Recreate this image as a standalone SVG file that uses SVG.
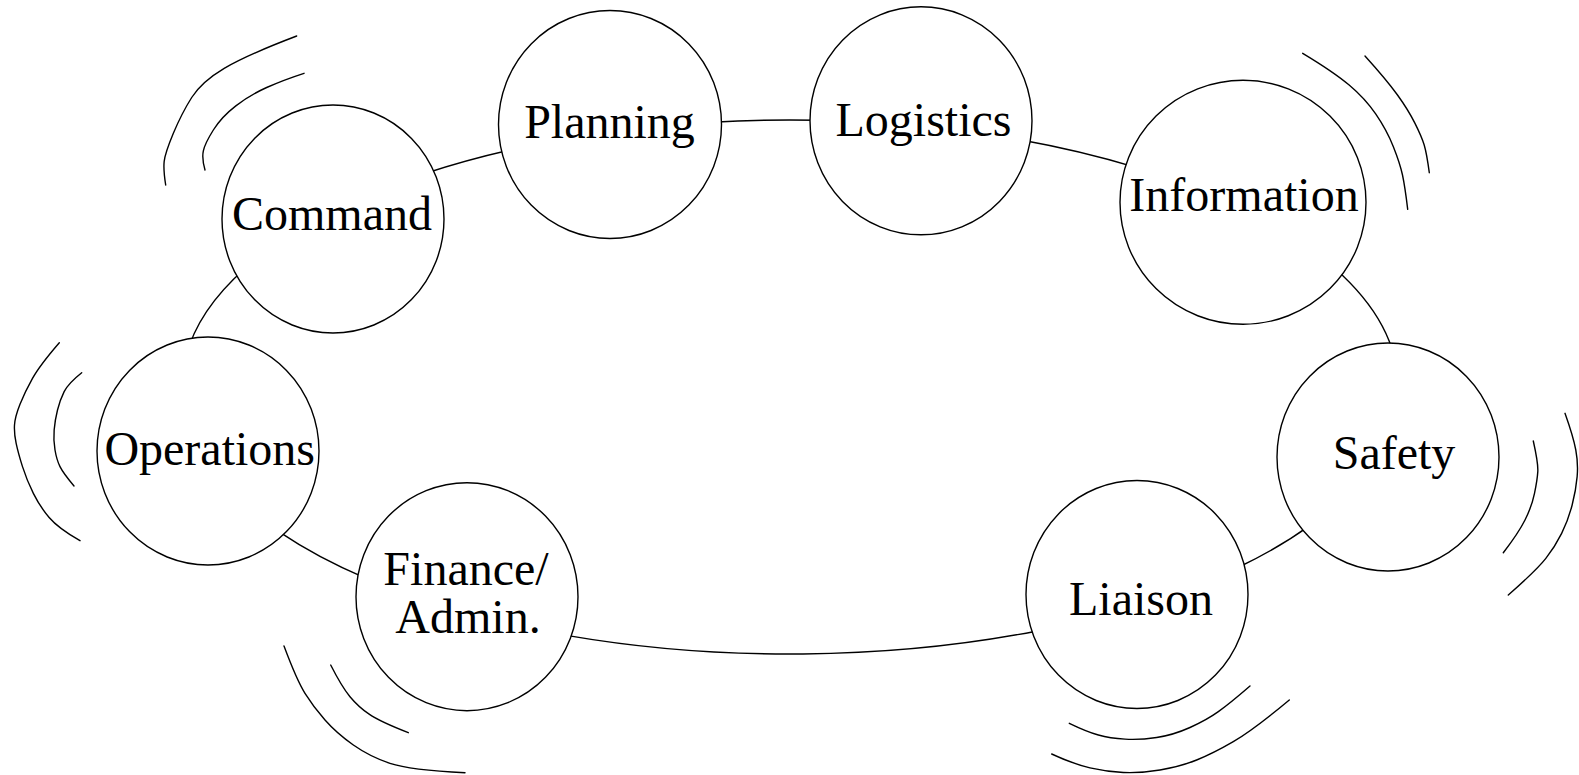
<svg xmlns="http://www.w3.org/2000/svg" width="1579" height="775" viewBox="0 0 1579 775">
<style>
.node{fill:#fff;stroke:#000;stroke-width:1.4}
.conn{fill:none;stroke:#000;stroke-width:1.4}
.wave{fill:none;stroke:#000;stroke-width:1.4;stroke-linecap:round}
.lbl{font-family:"Liberation Serif","Times New Roman",serif;font-size:48px;fill:#000;text-anchor:middle}
</style>
<rect width="1579" height="775" fill="#fff"/>
<g id="connectors">
<path class="conn" d="M186,356.4 A608 267 0 0 1 245,268.6"/>
<path class="conn" d="M425,173.5 A608 267 0 0 1 510,150"/>
<path class="conn" d="M712,122.2 A608 267 0 0 1 818,120.3"/>
<path class="conn" d="M1020,139.8 A608 267 0 0 1 1135,167.2"/>
<path class="conn" d="M1335,268.6 A608 267 0 0 1 1398,387"/>
<path class="conn" d="M1310,525.4 A608 267 0 0 1 1238,567.5"/>
<path class="conn" d="M1036,631.2 A608 267 0 0 1 568,635.6"/>
<path class="conn" d="M365,577.9 A608 267 0 0 1 280,532.4"/>
</g>
<g id="waves">
<path class="wave" d="M296.7,36 Q246.7,55 224.2,68.35 Q201.7,81.7 191.7,97.5 Q181.7,113.3 173.35,133.3 Q165,153.3 164.15,161.65 Q163.3,170 165.7,185"/>
<path class="wave" d="M304,73.3 Q283.3,80 266.65,87.5 Q250,95 235.85,105.85 Q221.7,116.7 213.35,130 Q205,143.3 203.35,150.8 Q201.7,158.3 205,170"/>
<path class="wave" d="M59.3,342.7 Q40,365 32.5,378.35 Q25,391.7 20,404.2 Q15,416.7 14.5,425 Q14,433.3 16.15,443.3 Q18.3,453.3 22.5,466.65 Q26.7,480 33.35,493.35 Q40,506.7 49.15,517.5 Q58.3,528.3 80,540.7"/>
<path class="wave" d="M81.7,372.7 Q68.3,383.3 64.15,391.65 Q60,400 57.5,410 Q55,420 54.15,430 Q53.3,440 55,450 Q56.7,460 60,466.65 Q63.3,473.3 74,486"/>
<path class="wave" d="M284,646 Q296.7,680 305,693.35 Q313.3,706.7 325,720 Q336.7,733.3 353.35,745 Q370,756.7 390,763.35 Q410,770 465,772.7"/>
<path class="wave" d="M330.7,665 Q341.7,686.7 350,696.7 Q358.3,706.7 369.15,714.2 Q380,721.7 408.3,732.7"/>
<path class="wave" d="M1069.3,723.3 Q1086.7,731.7 1098.35,735 Q1110,738.3 1125,739.15 Q1140,740 1156.65,737.5 Q1173.3,735 1190,727.5 Q1206.7,720 1218.35,711.65 Q1230,703.3 1250,686"/>
<path class="wave" d="M1051.7,754 Q1073.3,764 1090,767.85 Q1106.7,771.7 1123.35,772.5 Q1140,773.3 1160,770 Q1180,766.7 1196.65,760 Q1213.3,753.3 1233.3,741.65 Q1253.3,730 1289.3,700"/>
<path class="wave" d="M1533.3,441 Q1538.3,463.3 1537.8,471.65 Q1537.3,480 1534.5,493.35 Q1531.7,506.7 1525,520 Q1518.3,533.3 1503.3,552.7"/>
<path class="wave" d="M1565,413.3 Q1573.3,436.7 1575.8,450 Q1578.3,463.3 1577.15,476.65 Q1576,490 1572.15,505 Q1568.3,520 1561.65,533.35 Q1555,546.7 1545.85,558.35 Q1536.7,570 1508.3,595"/>
<path class="wave" d="M1302.7,53.3 Q1333.3,71.7 1349.15,85 Q1365,98.3 1375.85,114.15 Q1386.7,130 1393.35,146.65 Q1400,163.3 1402.5,175 Q1405,186.7 1407.7,209.3"/>
<path class="wave" d="M1365,56 Q1386.7,80 1397.5,95 Q1408.3,110 1415,123.35 Q1421.7,136.7 1424.2,145 Q1426.7,153.3 1429.3,172.7"/>
</g>
<g id="command"><ellipse class="node" cx="333" cy="219" rx="111" ry="114"/><text class="lbl" x="332" y="230">Command</text></g>
<g id="planning"><ellipse class="node" cx="610" cy="124.5" rx="111.5" ry="114"/><text class="lbl" x="609.5" y="137.5">Planning</text></g>
<g id="logistics"><ellipse class="node" cx="921" cy="120.8" rx="111" ry="114"/><text class="lbl" x="923.5" y="135.7">Logistics</text></g>
<g id="information"><ellipse class="node" cx="1243" cy="202.3" rx="123" ry="122"/><text class="lbl" x="1244" y="210.7">Information</text></g>
<g id="safety"><ellipse class="node" cx="1388" cy="457" rx="111" ry="114"/><text class="lbl" x="1394" y="469.3">Safety</text></g>
<g id="liaison"><ellipse class="node" cx="1137" cy="594.5" rx="111" ry="114"/><text class="lbl" x="1141" y="615">Liaison</text></g>
<g id="finance"><ellipse class="node" cx="467" cy="596.7" rx="111" ry="114"/><text class="lbl" x="466" y="585">Finance/</text><text class="lbl" x="468" y="632.7">Admin.</text></g>
<g id="operations"><ellipse class="node" cx="208" cy="451" rx="111" ry="114"/><text class="lbl" x="209.7" y="465">Operations</text></g>
</svg>
